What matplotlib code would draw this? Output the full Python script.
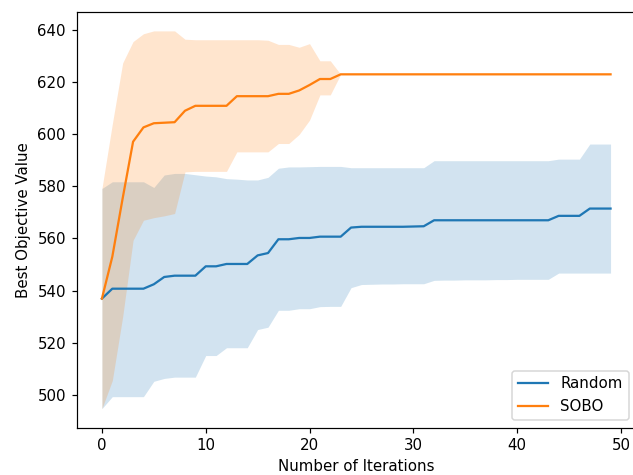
import numpy as np
import matplotlib
matplotlib.use('Agg')
import matplotlib.pyplot as plt

# Data
iterations = list(range(50))

random_mean = [536.9, 540.7, 540.7, 540.7, 540.7, 542.4, 545.2, 545.7, 545.7, 545.7,
               549.3, 549.3, 550.2, 550.2, 550.2, 553.5, 554.4, 559.7, 559.7, 560.2,
               560.2, 560.7, 560.7, 560.7, 564.2, 564.5, 564.5, 564.5, 564.5, 564.5,
               564.6, 564.7, 567.0, 567.0, 567.0, 567.0, 567.0, 567.0, 567.0, 567.0,
               567.0, 567.0, 567.0, 567.0, 568.7, 568.7, 568.7, 571.5, 571.5, 571.5]
random_upper = [579.2, 581.8, 581.8, 581.8, 581.8, 579.6, 584.4, 585.0, 585.0, 584.5,
                584.0, 583.7, 583.0, 582.8, 582.5, 582.5, 583.5, 587.0, 587.5, 587.5,
                587.6, 587.7, 587.7, 587.7, 587.2, 587.2, 587.2, 587.2, 587.2, 587.2,
                587.2, 587.2, 589.9, 589.9, 589.9, 589.9, 589.9, 589.9, 589.9, 589.9,
                589.9, 589.9, 589.9, 589.9, 590.5, 590.5, 590.5, 596.3, 596.3, 596.3]
random_lower = [494.6, 499.2, 499.2, 499.2, 499.2, 505.1, 506.2, 506.7, 506.7, 506.7,
                515.0, 515.0, 518.0, 518.0, 518.0, 525.0, 525.9, 532.4, 532.4, 533.0,
                533.0, 533.8, 533.9, 533.9, 541.1, 542.3, 542.4, 542.5, 542.5, 542.6,
                542.6, 542.6, 543.9, 544.0, 544.0, 544.1, 544.1, 544.1, 544.2, 544.2,
                544.3, 544.3, 544.3, 544.3, 546.7, 546.7, 546.7, 546.7, 546.7, 546.7]

sobo_mean = [536.9, 553.0, 575.5, 597.2, 602.7, 604.3, 604.5, 604.7, 609.1, 611.0,
             611.0, 611.0, 611.0, 614.7, 614.7, 614.7, 614.7, 615.6, 615.6, 616.9,
             619.0, 621.3, 621.3, 623.1] + [623.1] * 26
sobo_upper = [579.2, 604.0, 627.5, 635.7, 638.7, 639.8, 639.8, 639.8, 636.6, 636.4,
              636.4, 636.4, 636.4, 636.4, 636.4, 636.4, 636.2, 634.6, 634.6, 633.5,
              634.9, 628.3, 628.3, 623.1] + [623.1] * 26
sobo_lower = [494.6, 505.4, 530.0, 559.3, 567.0, 568.0, 568.7, 569.6, 585.6, 585.8,
              585.8, 585.8, 585.8, 593.3, 593.3, 593.3, 593.3, 596.5, 596.5, 600.0,
              605.5, 615.2, 615.2, 623.1] + [623.1] * 26

dpi = 108
fig = plt.figure(figsize=(633 / dpi, 475 / dpi), dpi=dpi)
ax = fig.add_axes([76.5 / 633, 47.5 / 475, 559.5 / 633, 415.5 / 475])

ax.plot(iterations, random_mean, color='C0', label='Random')
ax.fill_between(iterations, random_lower, random_upper, color='C0', alpha=0.2, linewidth=0)
ax.plot(iterations, sobo_mean, color='C1', label='SOBO')
ax.fill_between(iterations, sobo_lower, sobo_upper, color='C1', alpha=0.2, linewidth=0)

ax.set_xlabel('Number of Iterations')
ax.set_ylabel('Best Objective Value')
ax.legend(loc='lower right')

fig.savefig('out.png', dpi=dpi)
